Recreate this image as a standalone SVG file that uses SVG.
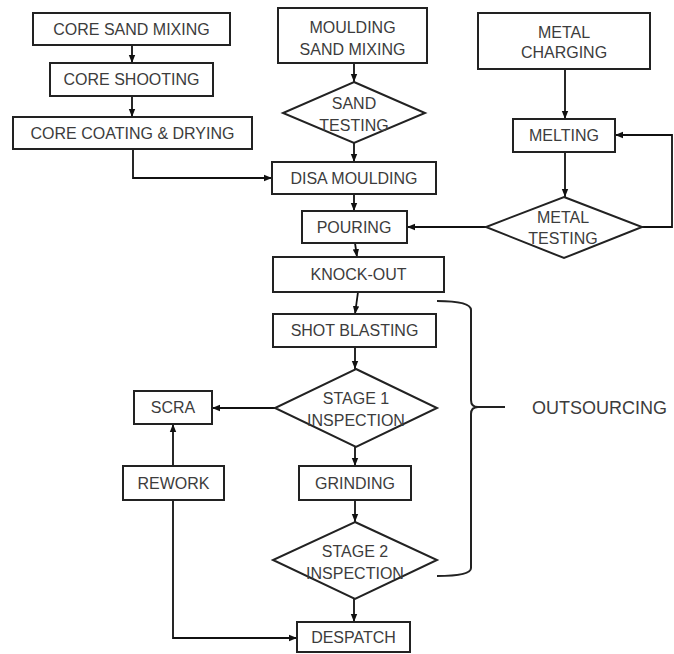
<svg xmlns="http://www.w3.org/2000/svg" width="674" height="654" viewBox="0 0 674 654">
<defs>
<marker id="ah" markerUnits="userSpaceOnUse" markerWidth="8" markerHeight="8" viewBox="0 0 8 8" refX="8" refY="4" orient="auto">
<path d="M0,0.8 L8,4 L0,7.2 Z" fill="#111"/>
</marker>
<style>
.box{fill:#fff;stroke:#222;stroke-width:2}
.t{font-family:"Liberation Sans",Arial,sans-serif;font-size:16px;fill:#3c3c3c;text-anchor:middle}
.c{fill:none;stroke:#111;stroke-width:1.8;marker-end:url(#ah)}
.br{fill:none;stroke:#222;stroke-width:2}
</style>
</defs>
<rect width="674" height="654" fill="#fff"/>
<g id="connectors">
<line class="c" x1="132" y1="45" x2="132" y2="63"/>
<line class="c" x1="132" y1="96" x2="132" y2="117"/>
<path class="c" d="M133,149 V178 H272"/>
<line class="c" x1="354" y1="63" x2="354" y2="82"/>
<line class="c" x1="354" y1="143" x2="354" y2="162"/>
<line class="c" x1="354" y1="194" x2="354" y2="211"/>
<line class="c" x1="355" y1="243" x2="357" y2="257"/>
<line class="c" x1="358" y1="292" x2="355" y2="314"/>
<line class="c" x1="355" y1="347" x2="355" y2="369"/>
<line class="c" x1="275" y1="408" x2="212" y2="408"/>
<line class="c" x1="355" y1="447" x2="355" y2="466"/>
<line class="c" x1="355" y1="500" x2="355" y2="522"/>
<line class="c" x1="354" y1="599" x2="354" y2="622"/>
<line class="c" x1="173" y1="466" x2="173" y2="424"/>
<path class="c" d="M173,500 V638 H297"/>
<line class="c" x1="565" y1="69" x2="565" y2="119"/>
<line class="c" x1="565" y1="152" x2="565" y2="197"/>
<line class="c" x1="486" y1="227" x2="407" y2="227"/>
<path class="c" d="M642,227 H672 V135 H615"/>
</g>
<g id="core-sand-mixing"><rect class="box" x="33" y="13" width="197" height="32"/><text class="t" x="131.5" y="35">CORE SAND MIXING</text></g>
<g id="core-shooting"><rect class="box" x="50" y="63" width="163" height="33"/><text class="t" x="131.5" y="85">CORE SHOOTING</text></g>
<g id="core-coating"><rect class="box" x="13" y="117" width="239" height="32"/><text class="t" x="132.5" y="139">CORE COATING &amp; DRYING</text></g>
<g id="moulding-sand-mixing"><rect class="box" x="278" y="8" width="149" height="55"/><text class="t" x="352.5" y="33">MOULDING</text><text class="t" x="352.5" y="55">SAND MIXING</text></g>
<g id="sand-testing"><polygon class="box" points="354,82 425,113 354,143 283,113"/><text class="t" x="354" y="109">SAND</text><text class="t" x="354" y="131">TESTING</text></g>
<g id="disa-moulding"><rect class="box" x="272" y="162" width="164" height="32"/><text class="t" x="354" y="184">DISA MOULDING</text></g>
<g id="pouring"><rect class="box" x="302" y="211" width="105" height="32"/><text class="t" x="354" y="233">POURING</text></g>
<g id="metal-charging"><rect class="box" x="478" y="13" width="172" height="56"/><text class="t" x="564" y="38">METAL</text><text class="t" x="564" y="58">CHARGING</text></g>
<g id="melting"><rect class="box" x="513" y="119" width="102" height="33"/><text class="t" x="564" y="141">MELTING</text></g>
<g id="metal-testing"><polygon class="box" points="564,197 642,227 564,258 486,227"/><text class="t" x="563" y="223">METAL</text><text class="t" x="563" y="244">TESTING</text></g>
<g id="knock-out"><rect class="box" x="273" y="257" width="171" height="35"/><text class="t" x="358.5" y="280">KNOCK-OUT</text></g>
<g id="shot-blasting"><rect class="box" x="273" y="314" width="163" height="33"/><text class="t" x="354.5" y="336">SHOT BLASTING</text></g>
<g id="stage1"><polygon class="box" points="356,369 437,408 356,447 275,408"/><text class="t" x="356" y="404">STAGE 1</text><text class="t" x="356" y="426">INSPECTION</text></g>
<g id="scra"><rect class="box" x="134" y="391" width="78" height="33"/><text class="t" x="173" y="413">SCRA</text></g>
<g id="rework"><rect class="box" x="123" y="466" width="101" height="34"/><text class="t" x="173.5" y="489">REWORK</text></g>
<g id="grinding"><rect class="box" x="299" y="466" width="112" height="34"/><text class="t" x="355" y="489">GRINDING</text></g>
<g id="stage2"><polygon class="box" points="355,522 437,560 355,599 273,560"/><text class="t" x="355" y="557">STAGE 2</text><text class="t" x="355" y="579">INSPECTION</text></g>
<g id="despatch"><rect class="box" x="297" y="622" width="113" height="30"/><text class="t" x="353.5" y="643">DESPATCH</text></g>
<g id="outsourcing">
<path class="br" d="M437,301 Q471,301 471,310 V400 Q471,407 478,407 H505 M478,407 Q471,407 471,414 V568 Q471,576 437,576"/>
<text x="532" y="414" style="font-family:'Liberation Sans',Arial,sans-serif;font-size:18px;fill:#3c3c3c">OUTSOURCING</text>
</g>
</svg>
